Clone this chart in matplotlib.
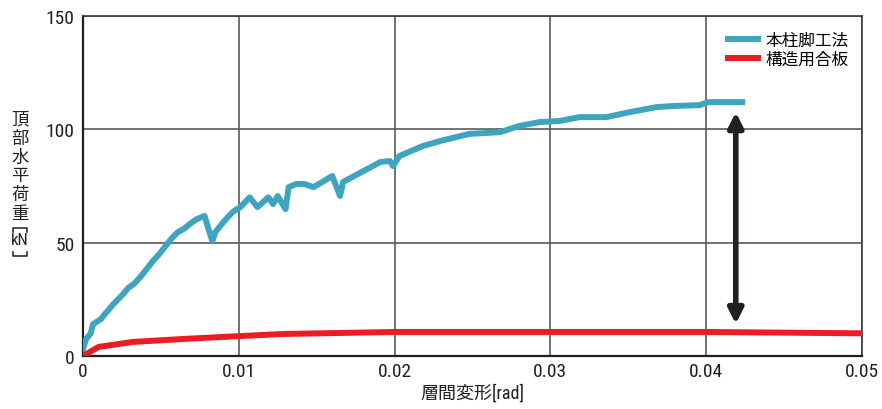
import numpy as np
import matplotlib.pyplot as plt
from matplotlib.lines import Line2D

plt.rcParams['font.family'] = ['Roboto Condensed', 'Liberation Sans Narrow', 'Roboto',
                               'Noto Sans CJK JP', 'DejaVu Sans']

# 本柱脚工法
drift_a = [0.0, 0.0002, 0.0005, 0.00064, 0.00116, 0.0014, 0.0016, 0.0019, 0.00225,
           0.0026, 0.0029, 0.0033, 0.0037, 0.0041, 0.0045, 0.0049,
           0.0053, 0.0057, 0.0061, 0.0065, 0.0069, 0.0073, 0.0078, 0.0083, 0.0085,
           0.009, 0.0096, 0.0101, 0.0107, 0.0112, 0.0119, 0.0122, 0.0125, 0.013,
           0.0132, 0.0137, 0.0142, 0.0148, 0.016, 0.0165, 0.0167, 0.018, 0.0191,
           0.0197, 0.0199, 0.0203, 0.0218, 0.023, 0.0242, 0.0248, 0.0259, 0.0268,
           0.0276, 0.028, 0.0293, 0.0306, 0.0319, 0.0336, 0.0351, 0.0368, 0.0379,
           0.0396, 0.0401, 0.0423]
load_a = [3.0, 7.5, 10.0, 14.0, 16.3, 18.5, 20.0, 22.5, 25.0,
          27.5, 30.0, 32.0, 35.0, 38.5, 42.0, 45.0,
          48.5, 52.0, 54.7, 56.2, 58.5, 60.4, 61.8, 50.7, 54.7,
          59.0, 63.5, 65.7, 70.0, 65.7, 70.0, 67.0, 70.6, 64.8,
          74.5, 75.9, 75.9, 74.5, 79.4, 70.6, 76.8, 81.6, 85.6,
          86.0, 83.8, 88.2, 92.6, 95.0, 97.0, 98.0, 98.4, 98.8,
          100.6, 101.5, 103.2, 103.7, 105.4, 105.4, 107.6, 109.8, 110.3,
          110.7, 112.0, 112.0]

# 構造用合板
drift_b = [0.0, 0.001, 0.0032, 0.0064, 0.0101, 0.0128, 0.02, 0.03, 0.04, 0.05]
load_b = [0.0, 4.0, 6.2, 7.5, 8.8, 9.7, 10.6, 10.6, 10.6, 10.0]

labels = ['本柱脚工法', '構造用合板']
colors = ['#3ea4c0', '#ec1c24']

# 矢印（耐力差）
arrow_x = 0.0419
arrow_top = 107.6
arrow_bottom = 14.1

ink = '#231f20'
W, H = 882, 410

fig = plt.figure(figsize=(W / 100, H / 100), dpi=100)
ax = fig.add_axes([0.0941, 0.1293, 0.8832, 0.8292])

ax.plot(drift_a, load_a, color=colors[0], lw=4.3, label=labels[0], zorder=3)
ax.plot(drift_b, load_b, color=colors[1], lw=4.3, label=labels[1], zorder=3)

ax.annotate('', xy=(arrow_x, arrow_top), xytext=(arrow_x, arrow_bottom),
            arrowprops=dict(arrowstyle='<|-|>', color=ink, lw=4,
                            mutation_scale=22, shrinkA=0, shrinkB=0), zorder=4)

ax.set_xlim(0, 0.05)
ax.set_ylim(0, 150)
ax.set_xticks([0, 0.01, 0.02, 0.03, 0.04, 0.05])
ax.set_xticklabels(['0', '0.01', '0.02', '0.03', '0.04', '0.05'])
ax.set_yticks([0, 50, 100, 150])
ax.tick_params(length=0, labelsize=14, colors=ink)
ax.tick_params(axis='y', pad=6)
ax.tick_params(axis='x', pad=4)
ax.grid(True, color='#5a5a5a', lw=1.2)
ax.set_axisbelow(True)
for s in ax.spines.values():
    s.set_color('#3a3a3a')
    s.set_linewidth(1.2)
ax.spines['left'].set_color(ink)
ax.spines['bottom'].set_color(ink)
ax.spines['left'].set_linewidth(1.6)
ax.spines['bottom'].set_linewidth(1.6)

ax.set_xlabel('層間変形[rad]', fontsize=13, color=ink, labelpad=3)


def px(x, y):
    # ピクセル位置 → figure座標
    return x / W, 1 - y / H


# 縦書きの軸ラベル（1文字ずつ配置）
for i, ch in enumerate('頂部水平荷重'):
    fig.text(*px(20, 120 + 18.8 * i), ch, fontsize=12.5,
             ha='center', va='center', color=ink)
fig.text(*px(20, 241), 'kN', fontsize=12, ha='center', va='center', color=ink)

# 縦書き用の角括弧
for ys in ([233, 229, 229, 233], [253, 257, 257, 253]):
    xs = [13, 13, 27, 27]
    fig.add_artist(Line2D([x / W for x in xs], [1 - y / H for y in ys],
                          transform=fig.transFigure, color=ink, lw=1.1))

ax.legend(loc='upper left', bbox_to_anchor=(0.828, 0.952), frameon=False,
          fontsize=12, handlelength=1.8, handletextpad=0.45, borderpad=0,
          borderaxespad=0, labelspacing=0.25)

fig.savefig('out.png', dpi=100)
